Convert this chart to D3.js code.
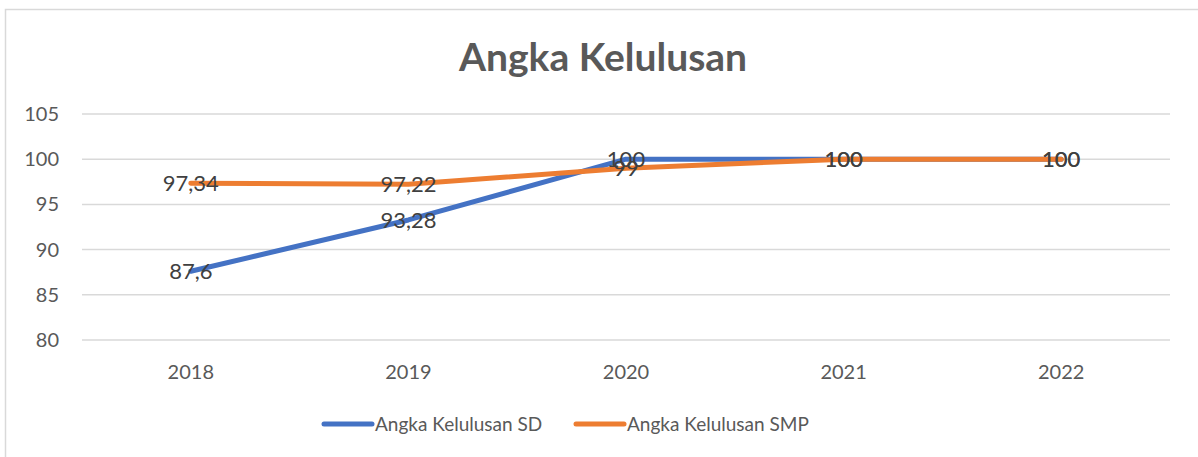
<!DOCTYPE html>
<html>
<head>
<meta charset="utf-8">
<script src="https://cdnjs.cloudflare.com/ajax/libs/d3/7.8.5/d3.min.js"></script>
<style>
  body { margin: 0; background: #fff; }
  svg { font-family: Lato, "Open Sans", sans-serif; }
</style>
</head>
<body>
<svg width="1198" height="457"></svg>
<script>
const years = ['2018', '2019', '2020', '2021', '2022'];
const sd = [87.6, 93.28, 100, 100, 100];
const smp = [97.34, 97.22, 99, 100, 100];
const yTicks = [80, 85, 90, 95, 100, 105];
const seriesNames = ['Angka Kelulusan SD', 'Angka Kelulusan SMP'];
const colors = ['#4472c4', '#ed7d31'];

const svg = d3.select('svg'),
    width = +svg.attr('width'),
    height = +svg.attr('height');

// chart frame
svg.append('rect')
    .attr('x', 5.5).attr('y', 9.5)
    .attr('width', width + 10).attr('height', height + 10)
    .attr('fill', 'none')
    .attr('stroke', '#d9d9d9')
    .attr('stroke-width', 1.5);

svg.append('text')
    .attr('x', 603).attr('y', 71)
    .attr('text-anchor', 'middle')
    .attr('font-size', 39)
    .attr('font-weight', 'bold')
    .attr('fill', '#595959')
    .text('Angka Kelulusan');

const x = d3.scaleBand().domain(years).range([82, 1170]);
const y = d3.scaleLinear().domain([80, 105]).range([340, 114]);

// gridlines
svg.append('g')
  .selectAll('line')
  .data(yTicks)
  .enter().append('line')
    .attr('x1', 82).attr('x2', 1170)
    .attr('y1', d => y(d)).attr('y2', d => y(d))
    .attr('stroke', '#d9d9d9')
    .attr('stroke-width', 1.5);

// y labels
svg.append('g')
  .selectAll('text')
  .data(yTicks)
  .enter().append('text')
    .attr('x', 59)
    .attr('y', d => y(d))
    .attr('dy', '0.35em')
    .attr('text-anchor', 'end')
    .attr('font-size', 20)
    .attr('fill', '#595959')
    .text(d => d);

// x labels
svg.append('g')
  .selectAll('text')
  .data(years)
  .enter().append('text')
    .attr('x', d => x(d) + x.bandwidth() / 2)
    .attr('y', 372)
    .attr('dy', '0.35em')
    .attr('text-anchor', 'middle')
    .attr('font-size', 20)
    .attr('fill', '#595959')
    .text(d => d);

const line = d3.line()
    .x((d, i) => x(years[i]) + x.bandwidth() / 2)
    .y(d => y(d));

const fmt = v => String(v).replace('.', ',');

[sd, smp].forEach((vals, k) => {
  svg.append('path')
      .datum(vals)
      .attr('fill', 'none')
      .attr('stroke', colors[k])
      .attr('stroke-width', 5)
      .attr('stroke-linejoin', 'round')
      .attr('stroke-linecap', 'round')
      .attr('d', line);
});

[sd, smp].forEach((vals, k) => {
  svg.append('g')
    .selectAll('text')
    .data(vals)
    .enter().append('text')
      .attr('x', (d, i) => x(years[i]) + x.bandwidth() / 2)
      .attr('y', d => y(d))
      .attr('dy', '0.35em')
      .attr('text-anchor', 'middle')
      .attr('font-size', 22)
      .attr('fill', '#404040')
      .text(d => fmt(d));
});

// legend
const legendX = [324, 576];
const legend = svg.append('g')
  .selectAll('g')
  .data(seriesNames)
  .enter().append('g')
    .attr('transform', (d, i) => `translate(${legendX[i]},424)`);

legend.append('line')
    .attr('x1', 0).attr('x2', 48)
    .attr('stroke', (d, i) => colors[i])
    .attr('stroke-width', 5)
    .attr('stroke-linecap', 'round');

legend.append('text')
    .attr('x', 51)
    .attr('dy', '0.35em')
    .attr('font-size', 19)
    .attr('fill', '#595959')
    .text(d => d);
</script>
</body>
</html>
